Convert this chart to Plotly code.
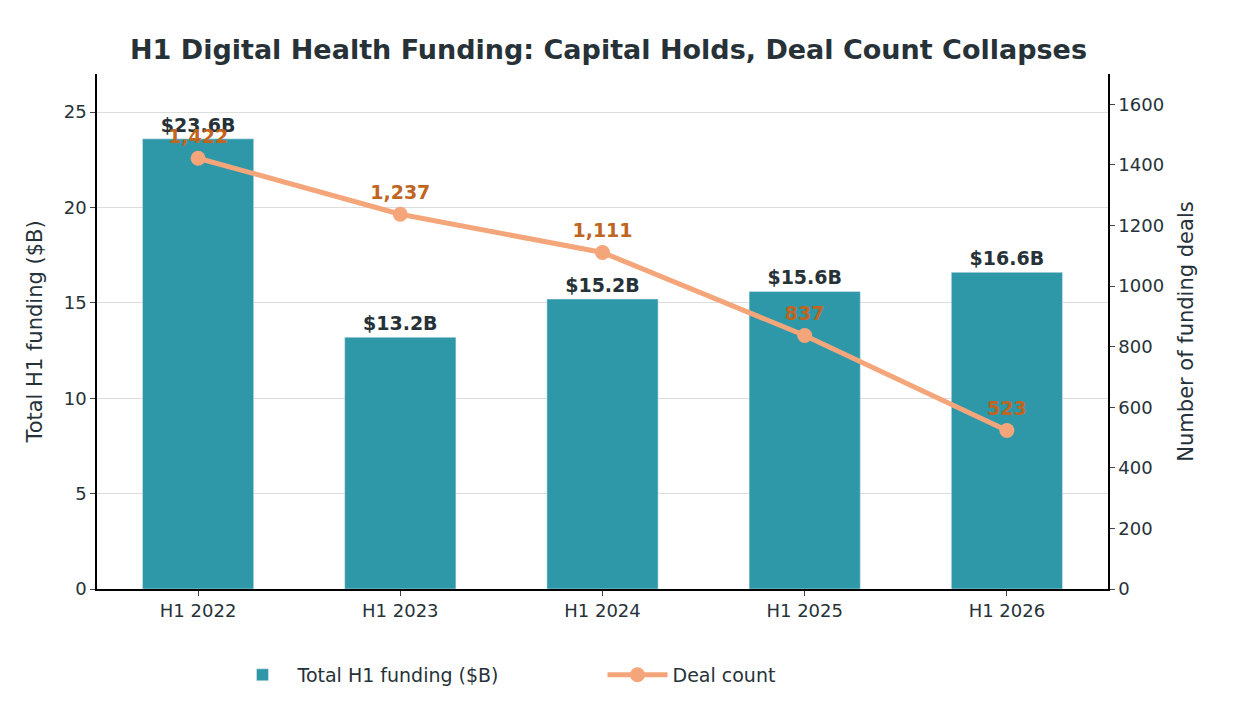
import plotly.graph_objects as go

categories = ["H1 2022", "H1 2023", "H1 2024", "H1 2025", "H1 2026"]
funding = [23.6, 13.2, 15.2, 15.6, 16.6]
deals = [1422, 1237, 1111, 837, 523]
funding_labels = ["<b>$23.6B</b>", "<b>$13.2B</b>", "<b>$15.2B</b>", "<b>$15.6B</b>", "<b>$16.6B</b>"]
deal_labels = ["<b>1,422</b>", "<b>1,237</b>", "<b>1,111</b>", "<b>837</b>", "<b>523</b>"]

fig = go.Figure()
fig.add_trace(go.Bar(x=categories, y=funding, name="Total H1 funding ($B)",
                     marker_color="#2E98A8", width=0.55,
                     text=funding_labels, textposition="outside",
                     textfont=dict(size=19, color="#263238", family="DejaVu Sans"),
                     cliponaxis=False))
fig.add_trace(go.Scatter(x=categories, y=deals, name="Deal count", yaxis="y2",
                         mode="lines+markers+text", line=dict(color="#F4A67A", width=5),
                         marker=dict(size=15, color="#F4A67A"),
                         text=deal_labels, textposition="top center",
                         textfont=dict(size=19, color="#C0651F", family="DejaVu Sans"),
                         cliponaxis=False))

fig.update_layout(
    width=1233, height=722, plot_bgcolor="white", paper_bgcolor="white",
    font=dict(family="DejaVu Sans", color="#263238", size=17),
    title=dict(text="<b>H1 Digital Health Funding: Capital Holds, Deal Count Collapses</b>",
               x=0.487, xanchor="center", y=0.955, font=dict(size=27, color="#263238")),
    margin=dict(l=89, r=133, t=66, b=141),
    xaxis=dict(showline=True, linecolor="black", linewidth=1.5, ticks="outside",
               tickfont=dict(size=18)),
    yaxis=dict(range=[0, 27], tick0=0, dtick=5, showline=True, linecolor="black",
               linewidth=1.5, ticks="outside", gridcolor="#DDDDDD",
               title=dict(text="Total H1 funding ($B)", font=dict(size=21)),
               tickfont=dict(size=18), zeroline=False),
    yaxis2=dict(range=[0, 1700], dtick=200, overlaying="y", side="right",
                showline=True, linecolor="black", linewidth=1.5, ticks="outside",
                showgrid=False, title=dict(text="Number of funding deals", font=dict(size=21)),
                tickfont=dict(size=18), zeroline=False),
    legend=dict(orientation="h", x=0.5, xanchor="center", y=-0.13, yanchor="top",
                font=dict(size=19), itemwidth=60, entrywidthmode="pixels", entrywidth=300),
)
fig.write_html("out.html")
